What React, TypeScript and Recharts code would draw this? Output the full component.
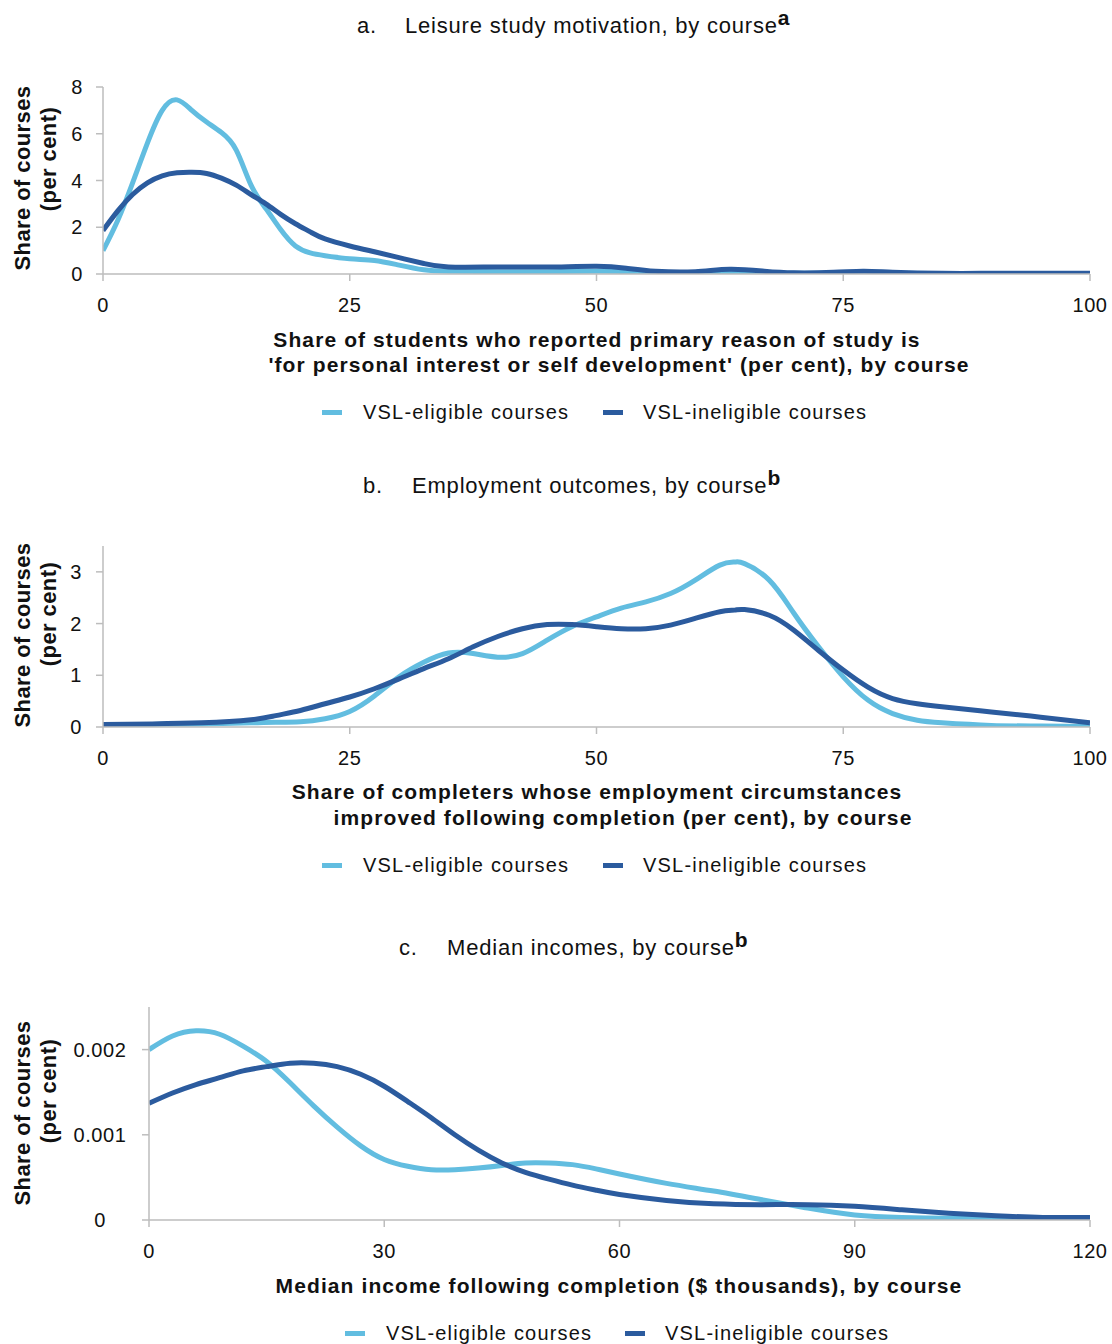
import React from "react";
import { LineChart, Line, XAxis, YAxis } from "recharts";

// a. Leisure study motivation
const leisureX = [0, 1.5, 3, 4.5, 6, 7.5, 9, 10.5, 12, 13.5, 15, 16.5, 18, 19.5, 21, 22.5, 25, 27.5, 30, 32.5, 35, 40, 45, 50, 53, 56, 60, 63.5, 67, 70, 74, 77, 80, 85, 90, 95, 100];
const leisureEligible = [1.0, 2.3, 3.9, 5.6, 7.0, 7.45, 7.0, 6.5, 6.05, 5.3, 3.8, 2.8, 1.9, 1.2, 0.9, 0.78, 0.65, 0.58, 0.38, 0.18, 0.12, 0.1, 0.1, 0.12, 0.1, 0.05, 0.04, 0.06, 0.04, 0.03, 0.03, 0.04, 0.03, 0.02, 0.02, 0.02, 0.02];
const leisureIneligible = [1.86, 2.7, 3.4, 3.9, 4.2, 4.33, 4.35, 4.3, 4.1, 3.8, 3.4, 3.0, 2.55, 2.15, 1.8, 1.5, 1.2, 0.95, 0.7, 0.45, 0.3, 0.3, 0.3, 0.33, 0.25, 0.12, 0.1, 0.2, 0.12, 0.05, 0.07, 0.12, 0.08, 0.03, 0.03, 0.03, 0.03];
const leisureXTicks = [0, 25, 50, 75, 100];
const leisureYTicks = [0, 2, 4, 6, 8];

// b. Employment outcomes
const employX = [0, 5, 10, 15, 17.5, 20, 22.5, 25, 27.5, 30, 32.5, 35, 37.5, 40, 42.5, 45, 47.5, 50, 52.5, 55, 57.5, 60, 62.5, 64, 65, 67.5, 70, 72.5, 75, 77.5, 80, 82.5, 85, 90, 95, 100];
const employEligible = [0.05, 0.05, 0.06, 0.08, 0.09, 0.1, 0.16, 0.3, 0.6, 0.97, 1.25, 1.43, 1.42, 1.35, 1.42, 1.68, 1.94, 2.13, 2.3, 2.42, 2.58, 2.84, 3.13, 3.19, 3.16, 2.84, 2.2, 1.55, 0.97, 0.52, 0.26, 0.13, 0.08, 0.03, 0.02, 0.01];
const employIneligible = [0.05, 0.06, 0.08, 0.14, 0.22, 0.32, 0.45, 0.58, 0.74, 0.93, 1.13, 1.32, 1.55, 1.75, 1.9, 1.98, 1.98, 1.94, 1.9, 1.9, 1.97, 2.1, 2.23, 2.26, 2.27, 2.16, 1.87, 1.48, 1.1, 0.77, 0.55, 0.45, 0.39, 0.29, 0.19, 0.08];
const employYTicks = [0, 1, 2, 3];

// c. Median incomes
const incomeX = [0, 3, 6, 9, 12, 15, 18, 21, 24, 27, 30, 33, 36, 39, 42, 45, 48, 51, 54, 57, 60, 66, 72, 78, 84, 90, 96, 102, 108, 114, 120];
const incomeEligible = [0.002, 0.00216, 0.00222, 0.00218, 0.00204, 0.00186, 0.00161, 0.00134, 0.00109, 0.00087, 0.00071, 0.00063, 0.00059, 0.00059, 0.00061, 0.00064, 0.00067, 0.00067, 0.00065, 0.0006, 0.00054, 0.00043, 0.00034, 0.00024, 0.00014, 0.00006, 0.00003, 0.00002, 0.00002, 0.00002, 0.00002];
const incomeIneligible = [0.00137, 0.00149, 0.00159, 0.00167, 0.00175, 0.0018, 0.00184, 0.00184, 0.0018, 0.00171, 0.00157, 0.00139, 0.0012, 0.001, 0.00082, 0.00067, 0.00056, 0.00048, 0.00041, 0.00035, 0.0003, 0.00023, 0.00019, 0.00018, 0.00018, 0.00016, 0.00012, 0.00008, 0.00005, 0.00003, 0.00003];
const incomeXTicks = [0, 30, 60, 90, 120];
const incomeYTicks = [0, 0.001, 0.002];

const FONT = "'Liberation Sans', Arial, Helvetica, sans-serif";
const INK = "#111";
const AXIS = "#BDBDBD";
const LIGHT = "#62BDE0";
const DARK = "#2B5B9E";

const rows = (xs: number[], a: number[], b: number[]) =>
  xs.map((x, i) => ({ x, eligible: a[i], ineligible: b[i] }));

function Txt({ x, y, size = 20, bold = false, spacing = 0, center = false, children }: any) {
  return (
    <div
      style={{
        position: "absolute",
        left: x,
        top: y - size * 0.6,
        fontSize: size,
        lineHeight: `${size * 1.2}px`,
        fontWeight: bold ? 700 : 400,
        letterSpacing: spacing,
        whiteSpace: "nowrap",
        transform: center ? "translateX(-50%)" : undefined,
        fontFamily: FONT,
        color: INK,
      }}
    >
      {children}
    </div>
  );
}

function VTxt({ x, y, children }: any) {
  return (
    <div
      style={{
        position: "absolute",
        left: x,
        top: y,
        fontSize: 22,
        lineHeight: "26px",
        fontWeight: 700,
        letterSpacing: 0.4,
        whiteSpace: "nowrap",
        transform: "translate(-50%, -50%) rotate(-90deg)",
        fontFamily: FONT,
        color: INK,
      }}
    >
      {children}
    </div>
  );
}

function Title({ y, letter, letterX, textX, text, note }: any) {
  return (
    <>
      <Txt x={letterX} y={y} size={22} spacing={0.8}>{letter}.</Txt>
      <Txt x={textX} y={y} size={22} spacing={0.8}>
        {text}
        <span style={{ fontWeight: 700, fontSize: 21, position: "relative", top: -8 }}>{note}</span>
      </Txt>
    </>
  );
}

function LegendRow({ y, x1, x2 }: any) {
  const swatch = (x: number, c: string) => (
    <div style={{ position: "absolute", left: x, top: y - 2, width: 20, height: 5, background: c }} />
  );
  return (
    <>
      {swatch(x1, LIGHT)}
      <Txt x={x1 + 41} y={y} size={20} spacing={1.2}>VSL-eligible courses</Txt>
      {swatch(x2, DARK)}
      <Txt x={x2 + 40} y={y} size={20} spacing={1.2}>VSL-ineligible courses</Txt>
    </>
  );
}

const XTick = (p: any) => (
  <text x={p.x} y={p.y} dy="0.71em" textAnchor="middle" fontSize={20} fill={INK} fontFamily={FONT} style={{ letterSpacing: 0.6 }}>
    {p.payload.value}
  </text>
);

function Panel({ data, top, plotTop, plotBottom, plotLeft, xDomain, xTicks, yDomain, yTicks, yOffset, yFmt }: any) {
  const height = plotBottom - top + 45;
  const YTick = (p: any) => (
    <text x={p.x - yOffset} y={p.y} dy="0.35em" textAnchor="middle" fontSize={20} fill={INK} fontFamily={FONT} style={{ letterSpacing: 0.6 }}>
      {yFmt ? yFmt(p.payload.value) : p.payload.value}
    </text>
  );
  return (
    <div style={{ position: "absolute", left: 0, top }}>
      <LineChart
        width={1112}
        height={height}
        data={data}
        margin={{ top: plotTop - top, right: 22, bottom: 5, left: plotLeft - 60 }}
      >
        <XAxis
          dataKey="x"
          type="number"
          domain={xDomain}
          ticks={xTicks}
          interval={0}
          allowDataOverflow
          height={40}
          stroke={AXIS}
          strokeWidth={1.5}
          tickSize={7}
          tickMargin={17}
          tick={XTick}
        />
        <YAxis
          type="number"
          domain={yDomain}
          ticks={yTicks}
          interval={0}
          allowDataOverflow
          width={60}
          stroke={AXIS}
          strokeWidth={1.5}
          tickSize={7}
          tickMargin={0}
          tick={YTick}
        />
        <Line dataKey="eligible" type="natural" stroke={LIGHT} strokeWidth={5} dot={false} isAnimationActive={false} />
        <Line dataKey="ineligible" type="natural" stroke={DARK} strokeWidth={5} dot={false} isAnimationActive={false} />
      </LineChart>
    </div>
  );
}

export default function App() {
  return (
    <div style={{ position: "absolute", left: 0, top: 0, width: 1112, height: 1344, background: "#fff", overflow: "hidden" }}>
      {/* a */}
      <Title y={26} letter="a" letterX={357} textX={405} text="Leisure study motivation, by course" note="a" />
      <Panel
        data={rows(leisureX, leisureEligible, leisureIneligible)}
        top={40}
        plotTop={87}
        plotBottom={274}
        plotLeft={103}
        xDomain={[0, 100]}
        xTicks={leisureXTicks}
        yDomain={[0, 8]}
        yTicks={leisureYTicks}
        yOffset={19}
      />
      <VTxt x={23} y={178}>Share of courses</VTxt>
      <VTxt x={49} y={159}>(per cent)</VTxt>
      <Txt x={597} y={340} size={21} bold spacing={1.1} center>Share of students who reported primary reason of study is</Txt>
      <Txt x={619} y={365} size={21} bold spacing={1.1} center>'for personal interest or self development' (per cent), by course</Txt>
      <LegendRow y={412} x1={322} x2={603} />

      {/* b */}
      <Title y={486} letter="b" letterX={363} textX={412} text="Employment outcomes, by course" note="b" />
      <Panel
        data={rows(employX, employEligible, employIneligible)}
        top={500}
        plotTop={546}
        plotBottom={727}
        plotLeft={103}
        xDomain={[0, 100]}
        xTicks={leisureXTicks}
        yDomain={[0, 3.5]}
        yTicks={employYTicks}
        yOffset={20}
      />
      <VTxt x={23} y={635}>Share of courses</VTxt>
      <VTxt x={49} y={614}>(per cent)</VTxt>
      <Txt x={597} y={792} size={21} bold spacing={1.1} center>Share of completers whose employment circumstances</Txt>
      <Txt x={623} y={818} size={21} bold spacing={1.1} center>improved following completion (per cent), by course</Txt>
      <LegendRow y={865} x1={322} x2={603} />

      {/* c */}
      <Title y={948} letter="c" letterX={399} textX={447} text="Median incomes, by course" note="b" />
      <Panel
        data={rows(incomeX, incomeEligible, incomeIneligible)}
        top={962}
        plotTop={1007}
        plotBottom={1220}
        plotLeft={149}
        xDomain={[0, 120]}
        xTicks={incomeXTicks}
        yDomain={[0, 0.0025]}
        yTicks={incomeYTicks}
        yOffset={42}
        yFmt={(v: number) => (v === 0 ? "0" : v.toFixed(3))}
      />
      <VTxt x={23} y={1113}>Share of courses</VTxt>
      <VTxt x={49} y={1091}>(per cent)</VTxt>
      <Txt x={619} y={1286} size={21} bold spacing={1.1} center>Median income following completion ($ thousands), by course</Txt>
      <LegendRow y={1333} x1={345} x2={625} />
    </div>
  );
}
